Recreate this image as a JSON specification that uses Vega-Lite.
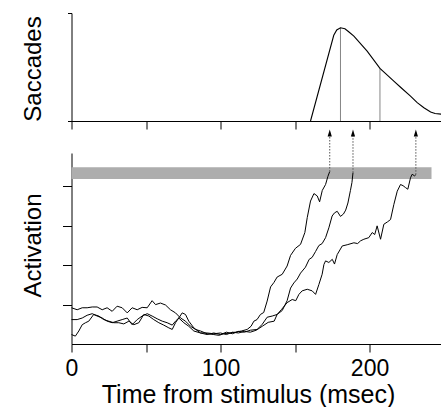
{
  "$schema": "https://vega.github.io/schema/vega-lite/v6.json",
  "padding": {"left": 20.5, "top": 12, "right": 0, "bottom": 0},
  "bounds": "flush",
  "spacing": 32,
  "background": "white",
  "config": {
    "view": {"stroke": null},
    "axis": {"grid": false, "domainColor": "#000", "tickColor": "#000", "labelColor": "#000", "titleColor": "#000", "labelFont": "Liberation Sans", "titleFont": "Liberation Sans", "titleFontWeight": "normal", "domainWidth": 1, "tickWidth": 1}
  },
  "datasets": {
    "sacc": [
      {"t": 160.4, "v": 0}, {"t": 176, "v": 2.38}, {"t": 178, "v": 2.53}, {"t": 180.5, "v": 2.59}, {"t": 183.5, "v": 2.56}, {"t": 186, "v": 2.48}, {"t": 189.5, "v": 2.36}, {"t": 198.4, "v": 1.94}, {"t": 207, "v": 1.46}, {"t": 216.3, "v": 1.11}, {"t": 221, "v": 0.93}, {"t": 227.5, "v": 0.69}, {"t": 232, "v": 0.51}, {"t": 236.5, "v": 0.37}, {"t": 241, "v": 0.25}, {"t": 244, "v": 0.21}, {"t": 248.3, "v": 0.19}
    ],
    "vlines": [{"t": 180.5, "v": 2.59}, {"t": 207, "v": 1.46}],
    "band": [{"t0": 0, "t1": 241.6, "v0": 4.19, "v1": 4.49}],
    "arrows": [{"t": 173.3, "v0": 4.38, "v1": 5.3, "h": 5.36}, {"t": 188.9, "v0": 4.35, "v1": 5.3, "h": 5.36}, {"t": 231.1, "v0": 4.3, "v1": 5.3, "h": 5.36}],
    "traces": [
      {"trace": "a", "t": 0, "v": 0.92}, {"trace": "a", "t": 3.8, "v": 0.87}, {"trace": "a", "t": 7.2, "v": 0.92}, {"trace": "a", "t": 10.5, "v": 0.92}, {"trace": "a", "t": 13.9, "v": 0.94}, {"trace": "a", "t": 17.2, "v": 0.94}, {"trace": "a", "t": 20.6, "v": 0.87}, {"trace": "a", "t": 23.9, "v": 0.92}, {"trace": "a", "t": 27.3, "v": 0.83}, {"trace": "a", "t": 30.6, "v": 0.96}, {"trace": "a", "t": 34, "v": 0.92}, {"trace": "a", "t": 37.4, "v": 0.79}, {"trace": "a", "t": 40.7, "v": 0.92}, {"trace": "a", "t": 44.1, "v": 0.87}, {"trace": "a", "t": 47.4, "v": 0.93}, {"trace": "a", "t": 50.8, "v": 0.92}, {"trace": "a", "t": 54.1, "v": 1.1}, {"trace": "a", "t": 56.4, "v": 1.0}, {"trace": "a", "t": 59.7, "v": 1.04}, {"trace": "a", "t": 63.1, "v": 0.99}, {"trace": "a", "t": 66.4, "v": 0.87}, {"trace": "a", "t": 69.8, "v": 0.79}, {"trace": "a", "t": 73.2, "v": 0.66}, {"trace": "a", "t": 76.5, "v": 0.58}, {"trace": "a", "t": 79.9, "v": 0.45}, {"trace": "a", "t": 83.2, "v": 0.37}, {"trace": "a", "t": 86.6, "v": 0.33}, {"trace": "a", "t": 91, "v": 0.26}, {"trace": "a", "t": 95.5, "v": 0.24}, {"trace": "a", "t": 98.9, "v": 0.22}, {"trace": "a", "t": 102.2, "v": 0.26}, {"trace": "a", "t": 106.7, "v": 0.28}, {"trace": "a", "t": 110, "v": 0.3}, {"trace": "a", "t": 114, "v": 0.33}, {"trace": "a", "t": 117.9, "v": 0.37}, {"trace": "a", "t": 120.5, "v": 0.45}, {"trace": "a", "t": 122.4, "v": 0.58}, {"trace": "a", "t": 124.5, "v": 0.62}, {"trace": "a", "t": 126.8, "v": 0.75}, {"trace": "a", "t": 129, "v": 0.8}, {"trace": "a", "t": 131.3, "v": 1.09}, {"trace": "a", "t": 133.6, "v": 1.45}, {"trace": "a", "t": 135.8, "v": 1.56}, {"trace": "a", "t": 138, "v": 1.7}, {"trace": "a", "t": 141.4, "v": 1.77}, {"trace": "a", "t": 144.7, "v": 1.98}, {"trace": "a", "t": 147, "v": 2.25}, {"trace": "a", "t": 150.3, "v": 2.43}, {"trace": "a", "t": 153.7, "v": 2.53}, {"trace": "a", "t": 156.6, "v": 2.83}, {"trace": "a", "t": 158.2, "v": 3.21}, {"trace": "a", "t": 160.4, "v": 3.63}, {"trace": "a", "t": 162.7, "v": 3.82}, {"trace": "a", "t": 164.9, "v": 3.76}, {"trace": "a", "t": 166.5, "v": 3.61}, {"trace": "a", "t": 168.3, "v": 3.9}, {"trace": "a", "t": 170.5, "v": 4.05}, {"trace": "a", "t": 172.1, "v": 4.26}, {"trace": "a", "t": 173.3, "v": 4.38},
      {"trace": "b", "t": 0, "v": 0.62}, {"trace": "b", "t": 3.8, "v": 0.62}, {"trace": "b", "t": 7.2, "v": 0.66}, {"trace": "b", "t": 10.5, "v": 0.73}, {"trace": "b", "t": 13.9, "v": 0.77}, {"trace": "b", "t": 17.2, "v": 0.71}, {"trace": "b", "t": 20.6, "v": 0.66}, {"trace": "b", "t": 23.9, "v": 0.58}, {"trace": "b", "t": 27.3, "v": 0.54}, {"trace": "b", "t": 30.6, "v": 0.58}, {"trace": "b", "t": 34, "v": 0.62}, {"trace": "b", "t": 37.4, "v": 0.66}, {"trace": "b", "t": 40.7, "v": 0.49}, {"trace": "b", "t": 44.1, "v": 0.62}, {"trace": "b", "t": 47.4, "v": 0.71}, {"trace": "b", "t": 50.8, "v": 0.77}, {"trace": "b", "t": 54.1, "v": 0.71}, {"trace": "b", "t": 57.5, "v": 0.64}, {"trace": "b", "t": 60.9, "v": 0.58}, {"trace": "b", "t": 64.2, "v": 0.54}, {"trace": "b", "t": 67.6, "v": 0.48}, {"trace": "b", "t": 69.8, "v": 0.58}, {"trace": "b", "t": 72, "v": 0.66}, {"trace": "b", "t": 74.3, "v": 0.79}, {"trace": "b", "t": 76.5, "v": 0.75}, {"trace": "b", "t": 78.7, "v": 0.58}, {"trace": "b", "t": 82.1, "v": 0.41}, {"trace": "b", "t": 86.6, "v": 0.28}, {"trace": "b", "t": 91, "v": 0.24}, {"trace": "b", "t": 95.5, "v": 0.28}, {"trace": "b", "t": 100, "v": 0.24}, {"trace": "b", "t": 104, "v": 0.3}, {"trace": "b", "t": 108, "v": 0.26}, {"trace": "b", "t": 112, "v": 0.32}, {"trace": "b", "t": 116, "v": 0.3}, {"trace": "b", "t": 120, "v": 0.35}, {"trace": "b", "t": 124.6, "v": 0.37}, {"trace": "b", "t": 128, "v": 0.5}, {"trace": "b", "t": 131.3, "v": 0.68}, {"trace": "b", "t": 134.7, "v": 0.71}, {"trace": "b", "t": 138, "v": 0.75}, {"trace": "b", "t": 141.4, "v": 0.85}, {"trace": "b", "t": 144.7, "v": 1.1}, {"trace": "b", "t": 147, "v": 1.42}, {"trace": "b", "t": 149.2, "v": 1.55}, {"trace": "b", "t": 151.5, "v": 1.65}, {"trace": "b", "t": 153.7, "v": 1.8}, {"trace": "b", "t": 157, "v": 1.95}, {"trace": "b", "t": 159.5, "v": 2.15}, {"trace": "b", "t": 161.5, "v": 2.2}, {"trace": "b", "t": 163.8, "v": 2.35}, {"trace": "b", "t": 166, "v": 2.5}, {"trace": "b", "t": 168.2, "v": 2.55}, {"trace": "b", "t": 170.5, "v": 2.7}, {"trace": "b", "t": 172.7, "v": 2.95}, {"trace": "b", "t": 174.9, "v": 3.25}, {"trace": "b", "t": 176.5, "v": 3.33}, {"trace": "b", "t": 178.3, "v": 3.37}, {"trace": "b", "t": 180.5, "v": 3.24}, {"trace": "b", "t": 182.5, "v": 3.3}, {"trace": "b", "t": 184, "v": 3.4}, {"trace": "b", "t": 185.5, "v": 3.58}, {"trace": "b", "t": 187.2, "v": 3.9}, {"trace": "b", "t": 188.2, "v": 4.1}, {"trace": "b", "t": 188.9, "v": 4.35},
      {"trace": "c", "t": 0, "v": 0.24}, {"trace": "c", "t": 2.6, "v": 0.2}, {"trace": "c", "t": 4.9, "v": 0.33}, {"trace": "c", "t": 7.2, "v": 0.49}, {"trace": "c", "t": 9.4, "v": 0.54}, {"trace": "c", "t": 11.6, "v": 0.58}, {"trace": "c", "t": 14.9, "v": 0.75}, {"trace": "c", "t": 18.3, "v": 0.71}, {"trace": "c", "t": 21.6, "v": 0.62}, {"trace": "c", "t": 25, "v": 0.58}, {"trace": "c", "t": 28.4, "v": 0.54}, {"trace": "c", "t": 31.7, "v": 0.54}, {"trace": "c", "t": 35.1, "v": 0.51}, {"trace": "c", "t": 38.5, "v": 0.58}, {"trace": "c", "t": 41.8, "v": 0.49}, {"trace": "c", "t": 45.2, "v": 0.54}, {"trace": "c", "t": 48.5, "v": 0.75}, {"trace": "c", "t": 51.9, "v": 0.71}, {"trace": "c", "t": 55.2, "v": 0.62}, {"trace": "c", "t": 58.6, "v": 0.54}, {"trace": "c", "t": 61.9, "v": 0.48}, {"trace": "c", "t": 65.3, "v": 0.41}, {"trace": "c", "t": 67.6, "v": 0.37}, {"trace": "c", "t": 69.8, "v": 0.54}, {"trace": "c", "t": 72, "v": 0.66}, {"trace": "c", "t": 75.4, "v": 0.54}, {"trace": "c", "t": 78.7, "v": 0.45}, {"trace": "c", "t": 82.1, "v": 0.33}, {"trace": "c", "t": 86.6, "v": 0.28}, {"trace": "c", "t": 91, "v": 0.28}, {"trace": "c", "t": 95.5, "v": 0.26}, {"trace": "c", "t": 100, "v": 0.28}, {"trace": "c", "t": 104, "v": 0.24}, {"trace": "c", "t": 108, "v": 0.3}, {"trace": "c", "t": 112, "v": 0.28}, {"trace": "c", "t": 116, "v": 0.32}, {"trace": "c", "t": 120, "v": 0.3}, {"trace": "c", "t": 124, "v": 0.35}, {"trace": "c", "t": 128, "v": 0.45}, {"trace": "c", "t": 132, "v": 0.55}, {"trace": "c", "t": 136, "v": 0.58}, {"trace": "c", "t": 138, "v": 0.75}, {"trace": "c", "t": 141, "v": 0.88}, {"trace": "c", "t": 144.7, "v": 1.05}, {"trace": "c", "t": 148.1, "v": 1.13}, {"trace": "c", "t": 150.5, "v": 1.1}, {"trace": "c", "t": 152.6, "v": 1.26}, {"trace": "c", "t": 154.8, "v": 1.35}, {"trace": "c", "t": 158.2, "v": 1.39}, {"trace": "c", "t": 161.5, "v": 1.35}, {"trace": "c", "t": 163.8, "v": 1.26}, {"trace": "c", "t": 166, "v": 1.51}, {"trace": "c", "t": 168.2, "v": 1.77}, {"trace": "c", "t": 169.4, "v": 2.02}, {"trace": "c", "t": 170.5, "v": 2.11}, {"trace": "c", "t": 172.7, "v": 2.07}, {"trace": "c", "t": 175, "v": 2.15}, {"trace": "c", "t": 176.5, "v": 2.03}, {"trace": "c", "t": 178.3, "v": 2.27}, {"trace": "c", "t": 181.7, "v": 2.49}, {"trace": "c", "t": 185, "v": 2.52}, {"trace": "c", "t": 189.5, "v": 2.57}, {"trace": "c", "t": 192, "v": 2.55}, {"trace": "c", "t": 194, "v": 2.62}, {"trace": "c", "t": 196.2, "v": 2.66}, {"trace": "c", "t": 199.5, "v": 2.7}, {"trace": "c", "t": 201.8, "v": 2.83}, {"trace": "c", "t": 203.5, "v": 2.78}, {"trace": "c", "t": 205.1, "v": 3.0}, {"trace": "c", "t": 207.4, "v": 2.66}, {"trace": "c", "t": 209.6, "v": 3.04}, {"trace": "c", "t": 212, "v": 3.1}, {"trace": "c", "t": 214.1, "v": 3.16}, {"trace": "c", "t": 216.3, "v": 3.54}, {"trace": "c", "t": 218.6, "v": 3.88}, {"trace": "c", "t": 220.8, "v": 4.05}, {"trace": "c", "t": 222.5, "v": 4.02}, {"trace": "c", "t": 224.2, "v": 3.97}, {"trace": "c", "t": 225.7, "v": 3.93}, {"trace": "c", "t": 227.5, "v": 4.22}, {"trace": "c", "t": 228.6, "v": 4.31}, {"trace": "c", "t": 230.2, "v": 4.27}, {"trace": "c", "t": 231.1, "v": 4.3}
    ]
  },
  "vconcat": [
    {
      "width": 370,
      "height": 108,
      "layer": [
        {
          "data": {"name": "vlines"},
          "mark": {"type": "rule", "color": "#666", "strokeWidth": 0.8},
          "encoding": {
            "x": {"field": "t", "type": "quantitative", "scale": {"domain": [0, 248.3], "nice": false, "zero": false}, "axis": {"values": [0, 50, 100, 150, 200], "labels": false, "tickSize": 8, "title": null}},
            "y": {"field": "v", "type": "quantitative", "scale": {"domain": [0, 3], "nice": false}, "axis": {"values": [0, 1, 2, 3], "labels": false, "tickSize": 4, "title": "Saccades", "titleFontSize": 24, "titleX": -31.5, "titleY": 55.5, "titleAlign": "center", "titleBaseline": "alphabetic", "titleAngle": -90}},
            "y2": {"datum": 0}
          }
        },
        {
          "data": {"name": "sacc"},
          "mark": {"type": "line", "color": "#000", "strokeWidth": 1.1},
          "encoding": {
            "x": {"field": "t", "type": "quantitative"},
            "y": {"field": "v", "type": "quantitative"}
          }
        }
      ]
    },
    {
      "width": 370,
      "height": 191,
      "layer": [
        {
          "data": {"name": "band"},
          "mark": {"type": "rect", "color": "#adadad"},
          "encoding": {
            "x": {"field": "t0", "type": "quantitative", "scale": {"domain": [0, 248.3], "nice": false, "zero": false}, "axis": {"values": [0, 50, 100, 150, 200], "labelExpr": "datum.value % 100 === 0 ? datum.label : ''", "labelFontSize": 23, "labelPadding": 5, "labelFlush": false, "labelOverlap": false, "tickSize": 8, "title": "Time from stimulus (msec)", "titleFontSize": 25, "titleX": 176.5, "titleY": 58, "titleAlign": "center", "titleBaseline": "alphabetic"}},
            "x2": {"field": "t1"},
            "y": {"field": "v0", "type": "quantitative", "scale": {"domain": [0, 4.85], "nice": false}, "axis": {"values": [1, 2, 3, 4], "labels": false, "tickSize": 9, "title": "Activation", "titleFontSize": 24, "titleX": -31.5, "titleY": 92, "titleAlign": "center", "titleBaseline": "alphabetic", "titleAngle": -90}},
            "y2": {"field": "v1"}
          }
        },
        {
          "data": {"name": "traces"},
          "mark": {"type": "line", "color": "#000", "strokeWidth": 1},
          "encoding": {
            "x": {"field": "t", "type": "quantitative"},
            "y": {"field": "v", "type": "quantitative"},
            "detail": {"field": "trace"}
          }
        },
        {
          "data": {"name": "arrows"},
          "mark": {"type": "rule", "color": "#555", "strokeWidth": 1, "strokeDash": [1.5, 1.5]},
          "encoding": {
            "x": {"field": "t", "type": "quantitative"},
            "y": {"field": "v0", "type": "quantitative"},
            "y2": {"field": "v1"}
          }
        },
        {
          "data": {"name": "arrows"},
          "mark": {"type": "point", "shape": "M0,-1L0.6,1L-0.6,1Z", "filled": true, "color": "#000", "size": 49, "opacity": 1},
          "encoding": {
            "x": {"field": "t", "type": "quantitative"},
            "y": {"field": "h", "type": "quantitative"}
          }
        }
      ]
    }
  ]
}
